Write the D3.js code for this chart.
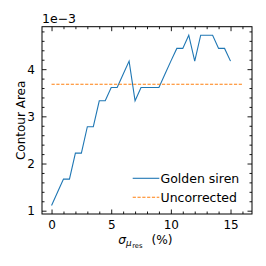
<!DOCTYPE html>
<html><head><meta charset="utf-8">
<script src="https://cdn.jsdelivr.net/npm/d3@7"></script>
<style>html,body{margin:0;padding:0;background:#fff;}svg{display:block;}</style>
</head><body>
<script>
const sigma = [0,0.5,1,1.5,2,2.5,3,3.5,4,4.5,5,5.5,6,6.5,7,7.5,8,8.5,9,9.5,10,10.5,11,11.5,12,12.5,13,13.5,14,14.5,15];
const goldenSiren = [1.11e-3,1.39e-3,1.67e-3,1.67e-3,2.22e-3,2.22e-3,2.78e-3,2.78e-3,3.33e-3,3.33e-3,3.61e-3,3.61e-3,3.89e-3,4.17e-3,3.33e-3,3.61e-3,3.61e-3,3.61e-3,3.61e-3,3.89e-3,4.17e-3,4.44e-3,4.44e-3,4.72e-3,4.17e-3,4.72e-3,4.72e-3,4.72e-3,4.44e-3,4.44e-3,4.17e-3];
const uncorrectedX = [0,16];
const uncorrectedY = [3.68e-3,3.68e-3];
const xTicks = [0,5,10,15];
const yTicks = [1e-3,2e-3,3e-3,4e-3];
const seriesNames = ["Golden siren","Uncorrected"];
const colors = ["#1f77b4","#ff7f0e"];

const W=266,H=266;
const FF="DejaVu Sans";
const m={l:42,r:252,t:26.7,b:214};
const svg=d3.select("body").append("svg").attr("width",W).attr("height",H).attr("font-family",FF);
const x=d3.scaleLinear().domain([-0.8,16.8]).range([m.l,m.r]);
const y=d3.scaleLinear().domain([0.93e-3,4.9e-3]).range([m.b,m.t]);

const fs=12;
const xMinor=d3.range(0,17,1).filter(v=>!xTicks.includes(v));
const yMinor=d3.range(1,25).map(i=>(0.8+i*0.2)*1e-3).filter(v=>v>0.93e-3&&v<4.9e-3&&Math.abs(v*1e3-Math.round(v*1e3))>1e-6);

function ax(gen,tr){return svg.append("g").attr("transform",tr).call(gen);}
ax(d3.axisBottom(x).tickValues(xTicks).tickSizeInner(-4.5).tickSizeOuter(0).tickPadding(6.3).tickFormat(d3.format("d")),`translate(0,${m.b})`);
ax(d3.axisBottom(x).tickValues(xMinor).tickSizeInner(-2.5).tickSizeOuter(0).tickFormat(""),`translate(0,${m.b})`);
ax(d3.axisTop(x).tickValues(xTicks).tickSizeInner(-4.5).tickSizeOuter(0).tickFormat(""),`translate(0,${m.t})`);
ax(d3.axisTop(x).tickValues(xMinor).tickSizeInner(-2.5).tickSizeOuter(0).tickFormat(""),`translate(0,${m.t})`);
ax(d3.axisLeft(y).tickValues(yTicks).tickSizeInner(-4.5).tickSizeOuter(0).tickPadding(7).tickFormat(d=>d3.format("d")(Math.round(d*1e3))),`translate(${m.l},0)`);
ax(d3.axisLeft(y).tickValues(yMinor).tickSizeInner(-2.5).tickSizeOuter(0).tickFormat(""),`translate(${m.l},0)`);
ax(d3.axisRight(y).tickValues(yTicks).tickSizeInner(-4.5).tickSizeOuter(0).tickFormat(""),`translate(${m.r},0)`);
ax(d3.axisRight(y).tickValues(yMinor).tickSizeInner(-2.5).tickSizeOuter(0).tickFormat(""),`translate(${m.r},0)`);
svg.selectAll("g").attr("font-family",FF).attr("font-size",fs);
svg.selectAll(".domain").remove();
svg.selectAll(".tick line").attr("stroke","#000").attr("stroke-width",0.9);
svg.selectAll(".tick text").attr("font-size",fs).attr("font-family",FF).attr("fill","#000");

svg.append("rect").attr("x",m.l).attr("y",m.t).attr("width",m.r-m.l).attr("height",m.b-m.t)
  .attr("fill","none").attr("stroke","#000").attr("stroke-width",1);

const line=d3.line().x(d=>x(d[0])).y(d=>y(d[1]));
svg.append("path").datum(sigma.map((s,i)=>[s,goldenSiren[i]])).attr("d",line)
  .attr("fill","none").attr("stroke",colors[0]).attr("stroke-width",1.1);
svg.append("path").datum(uncorrectedX.map((s,i)=>[s,uncorrectedY[i]])).attr("d",line)
  .attr("fill","none").attr("stroke",colors[1]).attr("stroke-width",1.1).attr("stroke-dasharray","3.2,1.6");

svg.append("text").attr("x",m.l).attr("y",23.3).attr("font-family",FF).attr("font-size",12.5).text("1e\u22123");

svg.append("text").attr("transform",`translate(24.5,${(m.t+m.b)/2}) rotate(-90)`)
  .attr("text-anchor","middle").attr("font-family",FF).attr("font-size",fs).text("Contour Area");

const xl=svg.append("text").attr("x",118.3).attr("y",243.5).attr("font-family",FF).attr("font-size",12.2);
xl.append("tspan").attr("font-style","italic").text("\u03c3");
xl.append("tspan").attr("font-style","italic").attr("font-size",8.8).attr("dy",2.5).text("\u03bc");
xl.append("tspan").attr("font-size",6.8).attr("dy",1.5).attr("dx",0.5).text("res");
xl.append("tspan").attr("x",151.5).attr("dy",-4).text("(%)");

[[178.3,0],[197.3,1]].forEach(([ly,i])=>{
  const l=svg.append("line").attr("x1",132.7).attr("x2",159.3).attr("y1",ly).attr("y2",ly)
    .attr("stroke",colors[i]).attr("stroke-width",1.1);
  if(i===1) l.attr("stroke-dasharray","3.2,1.6");
  svg.append("text").attr("x",160.5).attr("y",ly+4.5).attr("font-family",FF).attr("font-size",12.5).text(seriesNames[i]);
});
</script>
</body></html>
